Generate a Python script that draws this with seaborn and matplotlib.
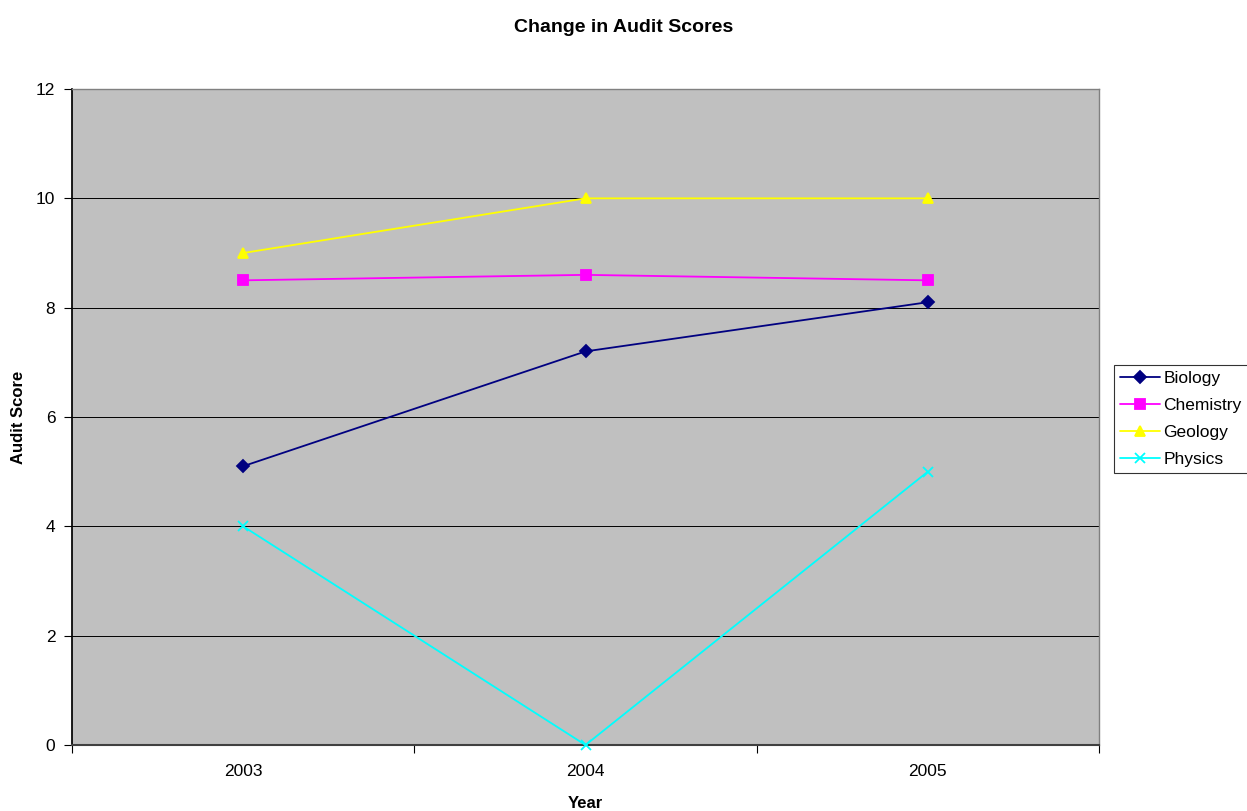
import matplotlib
matplotlib.use("Agg")
import matplotlib.pyplot as plt
import seaborn as sns
import pandas as pd

years = ["2003", "2004", "2005"]
biology = [5.1, 7.2, 8.1]
chemistry = [8.5, 8.6, 8.5]
geology = [9.0, 10.0, 10.0]
physics = [4.0, 0.0, 5.0]
series_names = ["Biology", "Chemistry", "Geology", "Physics"]
y_ticks = [0, 2, 4, 6, 8, 10, 12]

sns.set_theme(style="white")
plt.rcParams['font.family'] = ['Liberation Sans', 'DejaVu Sans']
plt.rcParams['text.color'] = 'black'
plt.rcParams['axes.labelcolor'] = 'black'
plt.rcParams['xtick.color'] = 'black'
plt.rcParams['ytick.color'] = 'black'

colors = {"Biology": "#000080", "Chemistry": "#FF00FF", "Geology": "#FFFF00", "Physics": "#00FFFF"}
markers = {"Biology": "D", "Chemistry": "s", "Geology": "^", "Physics": "x"}
msizes = {"Biology": 6, "Chemistry": 7, "Geology": 7.5, "Physics": 7.5}

fig = plt.figure(figsize=(12.47, 8.11), dpi=100)
ax = fig.add_axes([72/1247, 1-745/811, (1099-72)/1247, (745-89)/811])
ax.set_facecolor("#C0C0C0")

for yv in y_ticks[1:-1]:
    ax.axhline(yv, color="black", linewidth=0.7, zorder=1)

for name, vals in zip(series_names, [biology, chemistry, geology, physics]):
    d = pd.DataFrame({"pos": list(range(len(years))), "Score": vals})
    sns.lineplot(data=d, x="pos", y="Score", ax=ax, color=colors[name],
                 marker=markers[name], markersize=msizes[name],
                 markeredgecolor=colors[name], markerfacecolor=colors[name],
                 markeredgewidth=1.3, linewidth=1.3, label=name, zorder=3,
                 clip_on=False)

ax.set_xlim(-0.5, 2.5)
ax.set_ylim(0, 12)
ax.set_yticks(y_ticks)
ax.set_yticklabels([str(t) for t in y_ticks], fontsize=12.5)
ax.set_xticks([0, 1, 2])
ax.set_xticklabels(years, fontsize=12.5)
ax.set_xticks([-0.5, 0.5, 1.5, 2.5], minor=True)
ax.tick_params(axis="x", which="major", length=0, pad=14)
ax.tick_params(axis="x", which="minor", length=6, width=0.8, color="black", direction="out", bottom=True)
ax.tick_params(axis="y", which="major", length=6, width=0.8, color="black", direction="out", left=True, pad=6)

for side in ["top", "right"]:
    ax.spines[side].set_color("#808080")
    ax.spines[side].set_linewidth(1)
ax.spines["left"].set_color("black")
ax.spines["bottom"].set_color("#404040")
ax.spines["bottom"].set_linewidth(1.5)

ax.set_xlabel("Year", fontsize=12, fontweight="bold", labelpad=12)
ax.set_ylabel("Audit Score", fontsize=12, fontweight="bold", labelpad=7)
fig.suptitle("Change in Audit Scores", fontsize=14, fontweight="bold", y=1-27/811, va="center")

handles, labels = ax.get_legend_handles_labels()
leg = ax.legend(handles, labels, loc="center left", bbox_to_anchor=(1114/1247, 1-419/811),
                bbox_transform=fig.transFigure, frameon=True, fancybox=False,
                fontsize=12.5, handlelength=2.3, handletextpad=0.2, borderpad=0.35,
                labelspacing=0.68, borderaxespad=0)
leg.get_frame().set_edgecolor("black")
leg.get_frame().set_linewidth(0.8)

fig.savefig("out.png", dpi=100)
